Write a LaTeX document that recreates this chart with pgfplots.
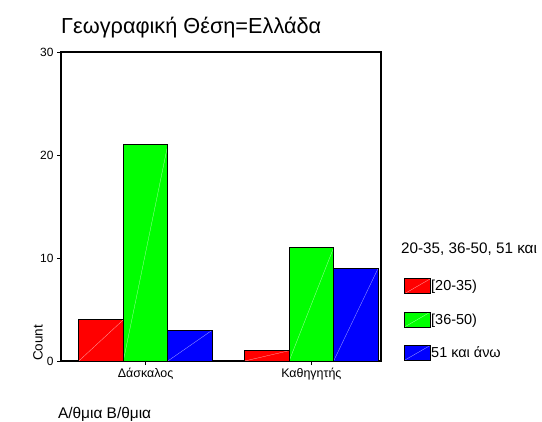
\documentclass[border=0pt]{standalone}
\usepackage{fontspec}
\setmainfont{Liberation Sans}
\usepackage{pgfplots}
\pgfplotsset{compat=1.18}
\definecolor{barred}{RGB}{255,0,0}
\definecolor{bargreen}{RGB}{0,255,0}
\definecolor{barblue}{RGB}{0,0,255}
\tikzset{diagline/.style={path picture={\draw[path picture={}, white, opacity=0.5, line width=0.3bp] (path picture bounding box.south west) -- (path picture bounding box.north east);}}}
\begin{document}
\begin{tikzpicture}[x=1bp,y=1bp]
\path[use as bounding box] (0,0) rectangle (542,421);
\begin{axis}[
  at={(61bp,60bp)}, anchor=south west,
  scale only axis, width=320bp, height=309bp,
  ybar, bar width=44.5bp,
  xmin=-0.51, xmax=1.42, ymin=0, ymax=30,
  xtick={0,1}, xticklabels={Δάσκαλος,Καθηγητής},
  ytick={0,10,20,30},
  tick align=outside, tick pos=left,
  major tick length=4bp,
  tick style={black, line width=0.8bp},
  axis line style={black, line width=1.1bp},
  /pgf/number format/assume math mode=true,
  yticklabel style={font=\fontsize{12}{13}\selectfont},
  xticklabel style={font=\fontsize{12.5}{14}\selectfont},
  title={Γεωγραφική Θέση=Ελλάδα},
  title style={at={(axis description cs:0,1.06)}, anchor=west, inner sep=0pt, font=\fontsize{21.8}{25}\selectfont},
  xlabel={Α/θμια Β/θμια},
  xlabel style={at={(axis description cs:-0.01,-0.172)}, anchor=west, inner sep=0pt, font=\fontsize{15.5}{18}\selectfont},
  ylabel={Count},
  ylabel style={at={(axis description cs:-0.072,0)}, anchor=west, rotate=0, inner sep=0pt, font=\fontsize{13.5}{15}\selectfont},
  legend style={at={(rel axis cs:1.071,0.268)}, anchor=north west, draw=none, fill=none,
    inner sep=0pt, row sep=17.5bp, font=\fontsize{14.5}{16}\selectfont,
    cells={anchor=west}, nodes={inner sep=0.5bp}},
  legend image code/.code={\draw[#1] (0bp,-7.5bp) rectangle (26bp,7.5bp);},
  every axis plot/.append style={draw=black, line width=0.8bp},
  clip=false,
]
\addplot[fill=barred, diagline, bar shift=-44.5bp] coordinates {(0,4)};
\addlegendentry{\relax[20-35)}
\addplot[fill=bargreen, diagline, bar shift=0bp] coordinates {(0,21)};
\addlegendentry{\relax[36-50)}
\addplot[fill=barblue, diagline, bar shift=44.5bp] coordinates {(0,3)};
\addlegendentry{51 και άνω}
\addplot[forget plot, fill=barred, diagline, bar shift=-44.5bp] coordinates {(1,1)};
\addplot[forget plot, fill=bargreen, diagline, bar shift=0bp] coordinates {(1,11)};
\addplot[forget plot, fill=barblue, diagline, bar shift=44.5bp] coordinates {(1,9)};
\node[anchor=west, inner sep=0pt, font=\fontsize{15.3}{17}\selectfont] at (rel axis cs:1.0625,0.362) {20-35, 36-50, 51 και};
\end{axis}
\end{tikzpicture}
\end{document}
